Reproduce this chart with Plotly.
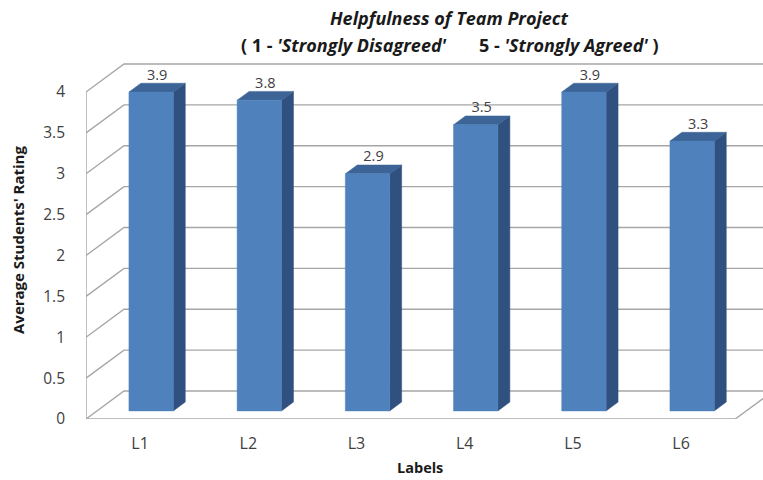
import plotly.graph_objects as go

# ---- chart data ----
categories = ["L1", "L2", "L3", "L4", "L5", "L6"]
ratings = [3.9, 3.8, 2.9, 3.5, 3.9, 3.3]
y_ticks = [0, 0.5, 1, 1.5, 2, 2.5, 3, 3.5, 4]
y_tick_labels = ["0", "0.5", "1", "1.5", "2", "2.5", "3", "3.5", "4"]

# ---- pseudo-3D geometry (in axis units) ----
W, H = 763, 480
ML, MB = 86, 61                      # plot area starts at the front-left floor corner
PX_PER_CAT, PX_PER_UNIT = 108.2, 81.75
DEPTH_X, DEPTH_Y = 38 / PX_PER_CAT, 28 / PX_PER_UNIT   # oblique shift from front to back wall
BAR_HALF = 0.205                     # half bar width in category units
BAR_Z0, BAR_Z1 = 0.29, 0.605         # bar front / back depth (0 = front, 1 = back wall)
N = len(categories)
Y_TOP = 4

x_max = (W - ML) / PX_PER_CAT
y_max = (H - MB) / PX_PER_UNIT

def proj(x, y, z):
    """Oblique projection of (category x, value y, depth z) into axis units."""
    return x + z * DEPTH_X, y + z * DEPTH_Y

GRID = "#a6a6a6"
FRONT = "#4f81bd"
TOP = "#3c6496"
SIDE = "#30507f"
FONT = "Open Sans, sans-serif"

fig = go.Figure()

# walls: back-wall gridlines, left-wall diagonals, floor outline
gx, gy = [], []
for v in y_ticks:
    x0, y0 = proj(0, v, 0)
    x1, y1 = proj(0, v, 1)
    gx += [x0, x1, x_max + 1, None]
    gy += [y0, y1, y1, None]
# left wall front edge
gx += [0, 0, None]
gy += [0, Y_TOP, None]
# floor front edge and right slant
fx, fy = proj(N, 0, 1)
gx += [0, N, fx, None]
gy += [0, 0, fy, None]
fig.add_trace(go.Scatter(x=gx, y=gy, mode="lines",
                         line=dict(color=GRID, width=1.4),
                         hoverinfo="skip", showlegend=False))

# bars: front face, top face, right side face
lab_x, lab_y = [], []
for i, v in enumerate(ratings):
    c = i + 0.5
    xl, xr = c - BAR_HALF, c + BAR_HALF
    fl = [proj(xl, 0, BAR_Z0), proj(xr, 0, BAR_Z0), proj(xr, v, BAR_Z0), proj(xl, v, BAR_Z0)]
    tp = [proj(xl, v, BAR_Z0), proj(xr, v, BAR_Z0), proj(xr, v, BAR_Z1), proj(xl, v, BAR_Z1)]
    sd = [proj(xr, 0, BAR_Z0), proj(xr, 0, BAR_Z1), proj(xr, v, BAR_Z1), proj(xr, v, BAR_Z0)]
    for poly, col in ((sd, SIDE), (tp, TOP), (fl, FRONT)):
        fig.add_trace(go.Scatter(
            x=[p[0] for p in poly] + [poly[0][0]],
            y=[p[1] for p in poly] + [poly[0][1]],
            mode="lines", fill="toself", fillcolor=col,
            line=dict(color=col, width=0.5),
            hoverinfo="skip", showlegend=False))
    lx, _ = proj(c, v, (BAR_Z0 + BAR_Z1) / 2)
    _, ly = proj(c, v, BAR_Z1)
    lab_x.append(lx)
    lab_y.append(ly)

fig.add_trace(go.Scatter(
    x=lab_x, y=lab_y, mode="text",
    text=[f"{v:.1f}" for v in ratings], textposition="top center",
    textfont=dict(family=FONT, size=14.5, color="#404040"),
    hoverinfo="skip", showlegend=False, cliponaxis=False))

fig.update_layout(
    width=W, height=H,
    margin=dict(l=ML, r=0, t=0, b=MB),
    paper_bgcolor="white", plot_bgcolor="white",
    showlegend=False,
    font=dict(family=FONT, color="#404040"),
    xaxis=dict(range=[0, x_max], showgrid=False, zeroline=False, showline=False,
               tickvals=[i + 0.5 for i in range(N)], ticktext=categories,
               ticks="", ticklabelstandoff=13,
               tickfont=dict(family=FONT, size=16, color="#404040")),
    yaxis=dict(range=[0, y_max], showgrid=False, zeroline=False, showline=False,
               tickvals=y_ticks, ticktext=y_tick_labels,
               ticks="", ticklabelstandoff=20,
               tickfont=dict(family=FONT, size=15.5, color="#404040")),
)

def paper_x(px):
    return (px - ML) / (W - ML)

def paper_y(py):
    return (H - MB - py) / (H - MB)

fig.add_annotation(
    text="<b><i>Helpfulness of Team Project</i></b>",
    xref="paper", yref="paper", x=paper_x(449), y=paper_y(18),
    xanchor="center", yanchor="middle", showarrow=False,
    font=dict(family=FONT, size=18, color="#1a1a1a"))
fig.add_annotation(
    text="<b>( 1 - <i>'Strongly Disagreed'</i>       5 - <i>'Strongly Agreed'</i> )</b>",
    xref="paper", yref="paper", x=paper_x(450), y=paper_y(45),
    xanchor="center", yanchor="middle", showarrow=False,
    font=dict(family=FONT, size=18, color="#1a1a1a"))
fig.add_annotation(
    text="<b>Average Students' Rating</b>",
    xref="paper", yref="paper", x=paper_x(18), y=paper_y(240),
    xanchor="center", yanchor="middle", textangle=-90, showarrow=False,
    font=dict(family=FONT, size=15, color="#1a1a1a"))
fig.add_annotation(
    text="<b>Labels</b>",
    xref="paper", yref="paper", x=paper_x(420), y=paper_y(467),
    xanchor="center", yanchor="middle", showarrow=False,
    font=dict(family=FONT, size=14.5, color="#1a1a1a"))

fig.write_html("out.html")
